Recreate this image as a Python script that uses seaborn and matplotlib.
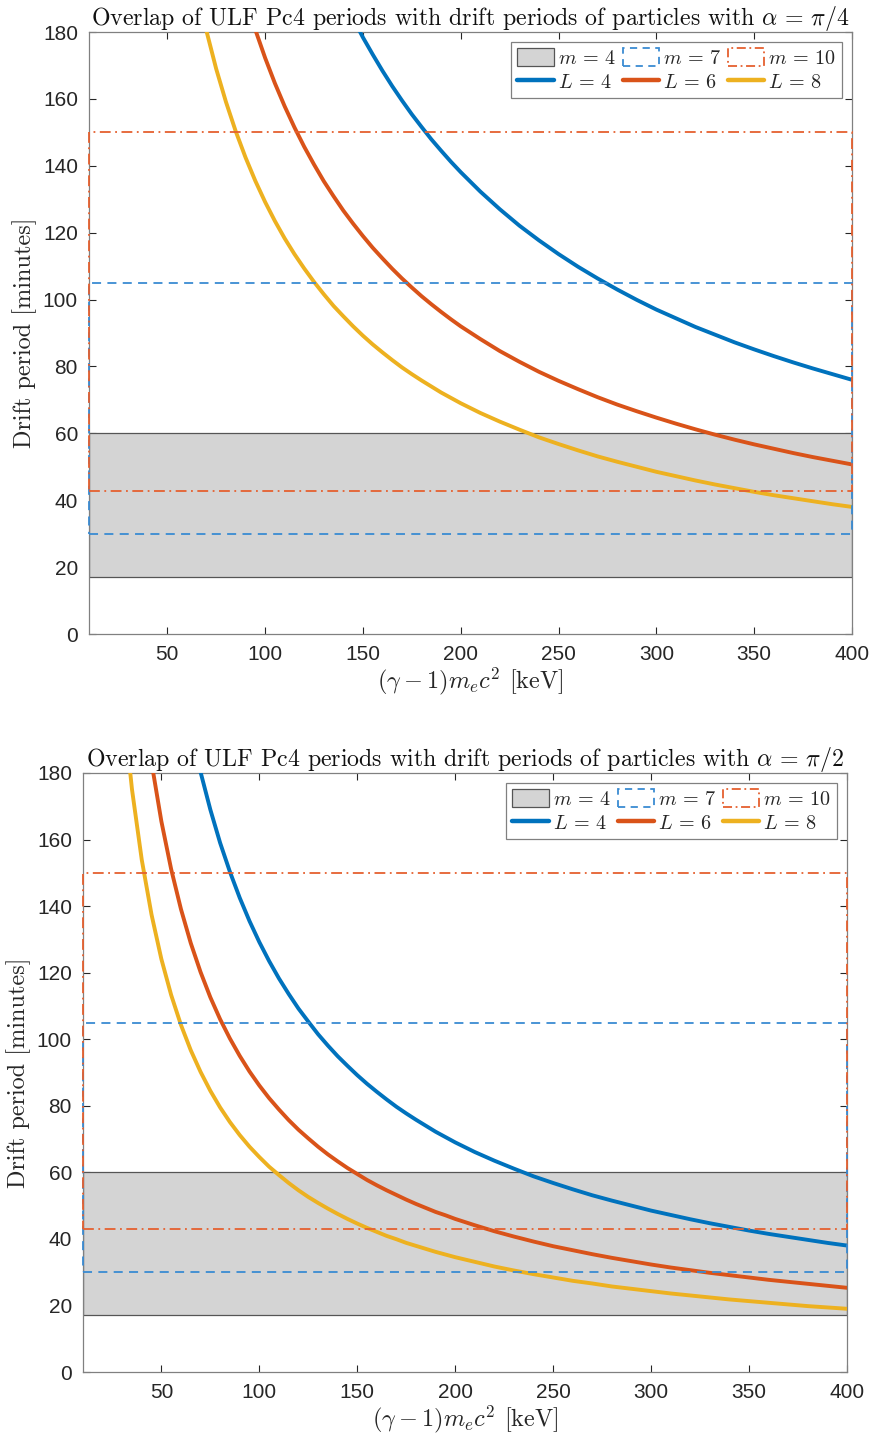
import matplotlib
matplotlib.use("Agg")
import matplotlib.pyplot as plt
import seaborn as sns
from matplotlib.patches import Rectangle, Patch
from matplotlib.lines import Line2D

# ---------------- data ----------------
# kinetic energy (keV)
energy_p1 = [50, 55, 60, 65, 70, 75, 80, 85, 90, 95,
             100, 105, 110, 115, 120, 125, 130, 135, 140, 145,
             150, 155, 160, 165, 170, 175, 180, 185, 190, 195,
             200, 210, 220, 230, 240, 250, 260, 270, 280, 290,
             300, 310, 320, 330, 340, 350, 360, 370, 380, 390, 400]
energy_p2 = [20, 25, 30, 35, 40, 45] + energy_p1

# panel 1: alpha = pi/4, drift period (minutes)
p1_L4 = [496.7, 453.5, 417.4, 386.9, 360.7, 338.0, 318.1, 300.6, 285.0, 271.0,
         258.4, 247.1, 236.7, 227.2, 218.5, 210.5, 203.1, 196.3, 189.9, 184.0,
         178.4, 173.3, 168.4, 163.8, 159.5, 155.4, 151.6, 147.9, 144.5, 141.2,
         138.1, 132.3, 127.0, 122.1, 117.7, 113.6, 109.8, 106.3, 103.0, 99.9,
         97.0, 94.4, 91.8, 89.5, 87.2, 85.1, 83.1, 81.2, 79.4, 77.7, 76.0]
p1_L6 = [331.1, 302.3, 278.3, 257.9, 240.5, 225.4, 212.1, 200.4, 190.0, 180.7,
         172.3, 164.7, 157.8, 151.5, 145.7, 140.4, 135.4, 130.9, 126.6, 122.7,
         119.0, 115.5, 112.3, 109.2, 106.3, 103.6, 101.0, 98.6, 96.3, 94.1,
         92.0, 88.2, 84.6, 81.4, 78.4, 75.7, 73.2, 70.8, 68.6, 66.6,
         64.7, 62.9, 61.2, 59.6, 58.1, 56.7, 55.4, 54.1, 52.9, 51.8, 50.7]
p1_L8 = [248.4, 226.7, 208.7, 193.4, 180.4, 169.0, 159.1, 150.3, 142.5, 135.5,
         129.2, 123.5, 118.3, 113.6, 109.3, 105.3, 101.6, 98.1, 95.0, 92.0,
         89.2, 86.6, 84.2, 81.9, 79.7, 77.7, 75.8, 74.0, 72.2, 70.6,
         69.0, 66.1, 63.5, 61.1, 58.8, 56.8, 54.9, 53.1, 51.5, 50.0,
         48.5, 47.2, 45.9, 44.7, 43.6, 42.5, 41.5, 40.6, 39.7, 38.8, 38.0]

# panel 2: alpha = pi/2
p2_L4 = [604.5, 485.8, 406.7, 350.1, 307.7, 274.7,
         248.3, 226.7, 208.7, 193.4, 180.3, 169.0, 159.0, 150.3, 142.5, 135.5,
         129.2, 123.5, 118.3, 113.6, 109.2, 105.3, 101.5, 98.1, 94.9, 92.0,
         89.2, 86.6, 84.2, 81.9, 79.7, 77.7, 75.8, 74.0, 72.2, 70.6,
         69.0, 66.1, 63.5, 61.1, 58.8, 56.8, 54.9, 53.1, 51.5, 50.0,
         48.5, 47.2, 45.9, 44.7, 43.6, 42.5, 41.5, 40.6, 39.7, 38.8, 38.0]
p2_L6 = [403.0, 323.9, 271.1, 233.4, 205.1, 183.1,
         165.5, 151.1, 139.1, 128.9, 120.2, 112.6, 106.0, 100.2, 95.0, 90.3,
         86.1, 82.3, 78.9, 75.7, 72.8, 70.2, 67.7, 65.4, 63.3, 61.3,
         59.5, 57.7, 56.1, 54.6, 53.2, 51.8, 50.5, 49.3, 48.1, 47.1,
         46.0, 44.1, 42.3, 40.7, 39.2, 37.8, 36.6, 35.4, 34.3, 33.3,
         32.3, 31.4, 30.6, 29.8, 29.1, 28.4, 27.7, 27.1, 26.5, 25.9, 25.3]
p2_L8 = [302.2, 242.9, 203.3, 175.1, 153.9, 137.4,
         124.1, 113.3, 104.3, 96.7, 90.2, 84.5, 79.5, 75.1, 71.2, 67.7,
         64.6, 61.7, 59.2, 56.8, 54.6, 52.6, 50.8, 49.1, 47.5, 46.0,
         44.6, 43.3, 42.1, 40.9, 39.9, 38.8, 37.9, 37.0, 36.1, 35.3,
         34.5, 33.1, 31.7, 30.5, 29.4, 28.4, 27.4, 26.6, 25.7, 25.0,
         24.3, 23.6, 23.0, 22.4, 21.8, 21.3, 20.8, 20.3, 19.8, 19.4, 19.0]

# Pc4 band drift-period ranges (minutes) for mode numbers m
m_values = [4, 7, 10]
band_low = [17.14, 30.0, 42.86]
band_high = [60.0, 105.0, 150.0]
energy_range = [10, 400]

L_values = [4, 6, 8]
titles = [r"Overlap of ULF Pc4 periods with drift periods of particles with $\alpha\,=\,\pi/4$",
          r"Overlap of ULF Pc4 periods with drift periods of particles with $\alpha\,=\,\pi/2$"]
x_ticks = [50, 100, 150, 200, 250, 300, 350, 400]
y_ticks = [0, 20, 40, 60, 80, 100, 120, 140, 160, 180]

# ---------------- style ----------------
sns.set_theme(style="white")
plt.rcParams["font.family"] = ["Liberation Sans", "DejaVu Sans"]
plt.rcParams["mathtext.fontset"] = "cm"

c_blue = "#0072BD"
c_orange = "#D95319"
c_yellow = "#EDB120"
c_dash_blue = "#3A8BD2"
c_dash_orange = "#E5602F"
line_colors = [c_blue, c_orange, c_yellow]
serif = "cmr10"

fig = plt.figure(figsize=(8.76, 14.35), dpi=100)
axes_rects = [[89 / 876, 1 - 634 / 1435, (852 - 89) / 876, (634 - 32) / 1435],
              [83 / 876, 1 - 1372 / 1435, (847 - 83) / 876, (1372 - 773) / 1435]]

panels = [(energy_p1, [p1_L4, p1_L6, p1_L8]), (energy_p2, [p2_L4, p2_L6, p2_L8])]

for i, (rect, (ex, curves)) in enumerate(zip(axes_rects, panels)):
    ax = fig.add_axes(rect)
    x0, x1 = energy_range
    # m = 4 gray band
    ax.add_patch(Rectangle((x0, band_low[0]), x1 - x0, band_high[0] - band_low[0],
                           facecolor="#D4D4D4", edgecolor="#555555", linewidth=0.9,
                           zorder=1))
    # m = 7 dashed band
    ax.add_patch(Rectangle((x0, band_low[1]), x1 - x0, band_high[1] - band_low[1],
                           facecolor="none", edgecolor=c_dash_blue, linewidth=1.3,
                           linestyle=(0, (5, 3.5)), zorder=4, clip_on=False))
    # m = 10 dash-dot band
    ax.add_patch(Rectangle((x0, band_low[2]), x1 - x0, band_high[2] - band_low[2],
                           facecolor="none", edgecolor=c_dash_orange, linewidth=1.3,
                           linestyle=(0, (6, 2.5, 1, 2.5)), zorder=4, clip_on=False))
    for yv, col in zip(curves, line_colors):
        sns.lineplot(x=ex, y=yv, color=col, linewidth=2.8, ax=ax, legend=False,
                     sort=False, zorder=3)

    ax.set_xlim(energy_range)
    ax.set_ylim(0, 180)
    ax.set_xticks(x_ticks)
    ax.set_yticks(y_ticks)
    ax.tick_params(direction="in", length=5, width=0.8, colors="#262626",
                   labelsize=15, top=True, right=True, bottom=True, left=True,
                   pad=8)
    for s in ax.spines.values():
        s.set_color("#808080")
        s.set_linewidth(0.9)
        s.set_zorder(2)
    ax.set_xlabel(r"$(\gamma-1)m_ec^2$ [keV]", fontsize=17.5, family=serif,
                  color="#262626", labelpad=1)
    ax.set_ylabel("Drift period [minutes]", fontsize=17.5, family=serif,
                  color="#262626", labelpad=4)
    ax.set_title(titles[i], fontsize=17.2, family=serif, color="#111111", pad=5)

    handles = [
        Patch(facecolor="#D4D4D4", edgecolor="#555555", linewidth=0.9,
              label=r"$m\,=\,4$"),
        Line2D([0], [0], color=c_blue, linewidth=3.2, label=r"$L\,=\,4$"),
        Patch(facecolor="none", edgecolor=c_dash_blue, linewidth=1.3,
              linestyle=(0, (4, 3)), label=r"$m\,=\,7$"),
        Line2D([0], [0], color=c_orange, linewidth=3.2, label=r"$L\,=\,6$"),
        Patch(facecolor="none", edgecolor=c_dash_orange, linewidth=1.3,
              linestyle=(0, (5, 2, 1, 2)), label=r"$m\,=\,10$"),
        Line2D([0], [0], color=c_yellow, linewidth=3.2, label=r"$L\,=\,8$"),
    ]
    leg = ax.legend(handles=handles, ncol=3, loc="upper right", fontsize=14.5,
                    frameon=True, fancybox=False, edgecolor="#808080",
                    framealpha=1, borderaxespad=0.5, handlelength=1.8,
                    handleheight=1.0, handletextpad=0.2, columnspacing=0.35,
                    labelspacing=0.2, borderpad=0.3)
    leg.get_frame().set_linewidth(0.9)

fig.savefig("out.png", dpi=100)
